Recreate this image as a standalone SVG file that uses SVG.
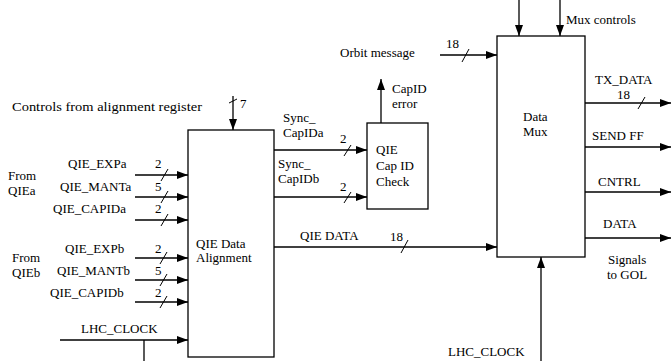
<svg xmlns="http://www.w3.org/2000/svg" width="671" height="361" viewBox="0 0 671 361">
<style>
text{font-family:'Liberation Serif','DejaVu Serif','Times New Roman',serif;font-size:13px;fill:#000}
.box{fill:#fff;stroke:#000;stroke-width:1.3}
.ln{stroke:#000;stroke-width:1.3;fill:none}
.ar{stroke:#000;stroke-width:1.3;fill:none;marker-end:url(#ah)}
.sl{stroke:#000;stroke-width:1;fill:none}
</style>
<defs>
<marker id="ah" markerUnits="userSpaceOnUse" markerWidth="11" markerHeight="8" refX="11" refY="4" orient="auto">
<path d="M0,0 L11,4 L0,8 z" fill="#000"/>
</marker>
</defs>
<rect width="671" height="361" fill="#fff"/>

<g id="connectors">
<path class="ar" d="M233,96 V130"/>
<path class="sl" d="M229,103 L237,99"/>
<path class="ar" d="M135,175 H188"/>
<path class="sl" d="M161,181 L168,169"/>
<path class="ar" d="M135,197 H188"/>
<path class="sl" d="M161,203 L168,191"/>
<path class="ar" d="M135,220 H188"/>
<path class="sl" d="M161,226 L168,214"/>
<path class="ar" d="M135,258 H188"/>
<path class="sl" d="M160,264 L167,252"/>
<path class="ar" d="M135,280 H188"/>
<path class="sl" d="M160,286 L167,274"/>
<path class="ar" d="M135,302 H188"/>
<path class="sl" d="M160,308 L167,296"/>
<path class="ar" d="M60,340 H188"/>
<path class="ln" d="M144,340 V361"/>
<path class="ar" d="M274,150 H367"/>
<path class="sl" d="M344,156 L351,145"/>
<path class="ar" d="M274,197 H367"/>
<path class="sl" d="M344,203 L351,192"/>
<path class="ar" d="M381,123 V79"/>
<path class="ar" d="M440,55 H497"/>
<path class="sl" d="M462,62 L469,49"/>
<path class="ar" d="M274,247 H497"/>
<path class="sl" d="M401,253 L408,240"/>
<path class="ar" d="M519,0 V36"/>
<path class="ar" d="M560,0 V36"/>
<path class="ar" d="M541,361 V257"/>
<path class="ar" d="M585,103 H671"/>
<path class="sl" d="M638,109 L645,97"/>
<path class="ar" d="M585,147 H671"/>
<path class="ar" d="M585,192 H671"/>
<path class="ar" d="M585,238 H671"/>
</g>

<g id="alignment">
<rect class="box" x="188" y="130" width="86" height="227"/>
<text x="196" y="248">QIE Data</text>
<text x="196" y="262">Alignment</text>
</g>

<g id="capid-check">
<rect class="box" x="367" y="123" width="61" height="86"/>
<text x="376" y="154">QIE</text>
<text x="376" y="170">Cap ID</text>
<text x="376" y="186">Check</text>
</g>

<g id="data-mux">
<rect class="box" x="497" y="36" width="88" height="221"/>
<text x="523" y="121">Data</text>
<text x="523" y="136">Mux</text>
</g>

<g id="labels">
<text x="12" y="111" textLength="190" lengthAdjust="spacingAndGlyphs">Controls from alignment register</text>
<text x="240" y="108">7</text>
<text x="8" y="180">From</text>
<text x="8" y="195">QIEa</text>
<text x="68" y="168">QIE_EXPa</text>
<text x="155" y="168">2</text>
<text x="60" y="191">QIE_MANTa</text>
<text x="155" y="191">5</text>
<text x="53" y="213">QIE_CAPIDa</text>
<text x="155" y="213">2</text>
<text x="12" y="262">From</text>
<text x="12" y="277">QIEb</text>
<text x="65" y="253">QIE_EXPb</text>
<text x="155" y="253">2</text>
<text x="57" y="275">QIE_MANTb</text>
<text x="155" y="275">5</text>
<text x="50" y="297">QIE_CAPIDb</text>
<text x="155" y="297">2</text>
<text x="81" y="333">LHC_CLOCK</text>
<text x="283" y="122">Sync_</text>
<text x="283" y="137">CapIDa</text>
<text x="340" y="143">2</text>
<text x="278" y="168">Sync_</text>
<text x="278" y="183">CapIDb</text>
<text x="340" y="191">2</text>
<text x="392" y="93">CapID</text>
<text x="392" y="108">error</text>
<text x="340" y="57">Orbit message</text>
<text x="446" y="48">18</text>
<text x="300" y="240">QIE DATA</text>
<text x="390" y="241">18</text>
<text x="566" y="24">Mux controls</text>
<text x="595" y="84">TX_DATA</text>
<text x="617" y="99">18</text>
<text x="592" y="140">SEND FF</text>
<text x="598" y="186">CNTRL</text>
<text x="603" y="228">DATA</text>
<text x="608" y="264">Signals</text>
<text x="607" y="279">to GOL</text>
<text x="448" y="356">LHC_CLOCK</text>
</g>
</svg>
